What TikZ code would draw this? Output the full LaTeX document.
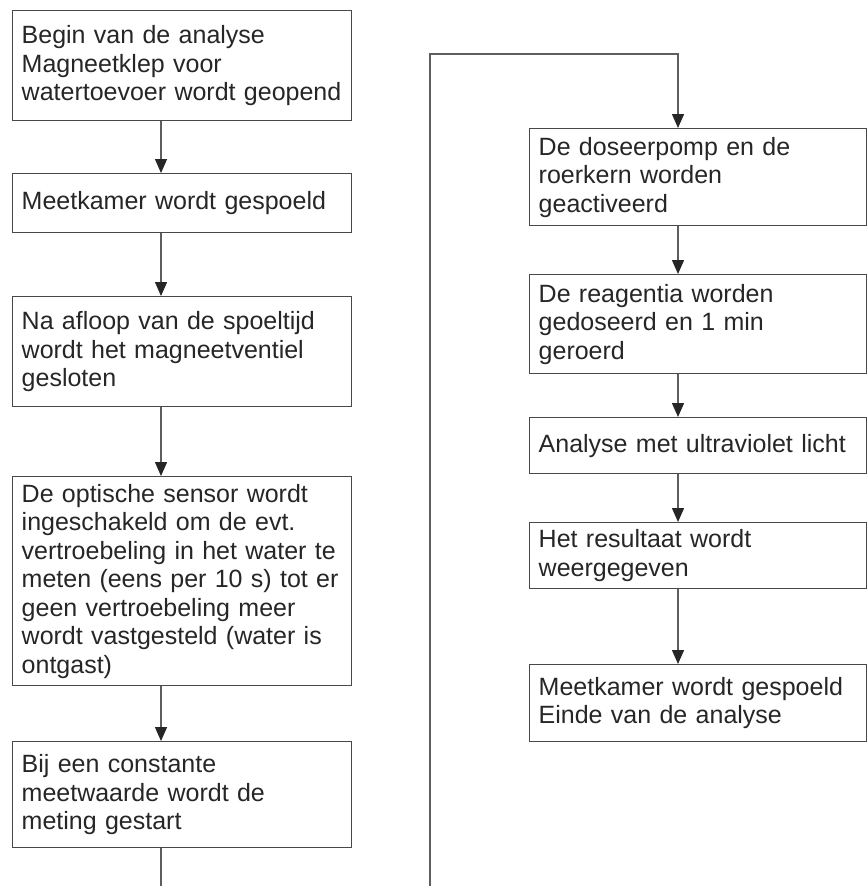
\documentclass[tikz,border=0pt]{standalone}
\usepackage{fontspec}
\setmainfont{Liberation Sans}
\usepackage{tikz}
\usetikzlibrary{arrows.meta}

\definecolor{tekst}{HTML}{262626}
\definecolor{rand}{HTML}{484848}
\definecolor{lijn}{HTML}{5E5E5E}

\tikzset{
    stap/.style={draw=rand, line width=1.4pt, rectangle, anchor=north west,
        align=left, inner xsep=9pt, inner ysep=0pt, text=tekst,
        font=\fontsize{25}{28.5}\selectfont},
    links/.style={stap, text width=321pt},
    rechts/.style={stap, text width=319pt},
    pijl/.style={draw=lijn, line width=1.4pt, -{Triangle[width=12pt,length=14pt,color=tekst]}},
    lijntje/.style={draw=lijn, line width=1.4pt}
}

\begin{document}
\begin{tikzpicture}[x=1pt, y=-1pt]
            \useasboundingbox (0,0) rectangle (867,886);

            % linker kolom
            \node[links, minimum height=110pt] (begin) at (12,10) {Begin van de analyse\\Magneetklep voor\\watertoevoer wordt geopend};
            \node[links, minimum height=59pt] (spoel) at (12,173) {Meetkamer wordt gespoeld};
            \node[links, minimum height=110pt] (afloop) at (12,296) {Na afloop van de spoeltijd\\wordt het magneetventiel\\gesloten};
            \node[links, minimum height=209pt] (sensor) at (12,476) {De optische sensor wordt\\ingeschakeld om de evt.\\vertroebeling in het water te\\meten (eens per 10 s) tot er\\geen vertroebeling meer\\wordt vastgesteld (water is\\ontgast)};
            \node[links, minimum height=106pt] (meting) at (12,741) {Bij een constante\\meetwaarde wordt de\\meting gestart};

            % rechter kolom
            \node[rechts, minimum height=97pt] (doseer) at (529,128) {De doseerpomp en de\\roerkern worden\\geactiveerd};
            \node[rechts, minimum height=99pt] (reagens) at (529,274) {De reagentia worden\\gedoseerd en 1 min\\geroerd};
            \node[rechts, minimum height=56pt] (uv) at (529,417) {Analyse met ultraviolet licht};
            \node[rechts, minimum height=66pt] (resultaat) at (529,522) {Het resultaat wordt\\weergegeven};
            \node[rechts, minimum height=77pt] (einde) at (529,664) {Meetkamer wordt gespoeld\\Einde van de analyse};

            \coordinate (kolomL) at (161,0);
            \coordinate (kolomR) at (678,0);
            \coordinate (uitL) at (161,886);
            \coordinate (inR) at (430,886);
            \coordinate (hoek) at (430,54);

            \draw[pijl] (begin.south -| kolomL) -- (spoel.north -| kolomL);
            \draw[pijl] (spoel.south -| kolomL) -- (afloop.north -| kolomL);
            \draw[pijl] (afloop.south -| kolomL) -- (sensor.north -| kolomL);
            \draw[pijl] (sensor.south -| kolomL) -- (meting.north -| kolomL);
            \draw[lijntje] (meting.south -| kolomL) -- (uitL);

            \draw[pijl] (inR) -- (hoek) -| (doseer.north -| kolomR);
            \draw[pijl] (doseer.south -| kolomR) -- (reagens.north -| kolomR);
            \draw[pijl] (reagens.south -| kolomR) -- (uv.north -| kolomR);
            \draw[pijl] (uv.south -| kolomR) -- (resultaat.north -| kolomR);
            \draw[pijl] (resultaat.south -| kolomR) -- (einde.north -| kolomR);
\end{tikzpicture}
\end{document}
